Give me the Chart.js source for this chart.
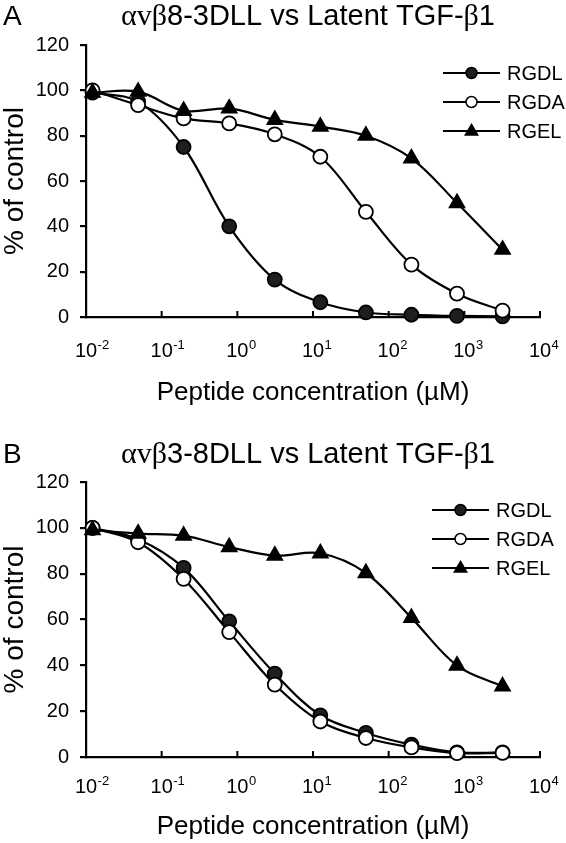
<!DOCTYPE html>
<html>
<head>
<meta charset="utf-8">
<script src="https://cdn.jsdelivr.net/npm/chart.js@4.4.1/dist/chart.umd.min.js"></script>
<style>
  body { margin: 0; background: #fff; width: 566px; height: 843px; overflow: hidden; position: relative; }
  .panel { position: absolute; left: 0; width: 566px; height: 420px; }
</style>
</head>
<body>
<div class="panel" style="top:0"><canvas id="chartA"></canvas></div>
<div class="panel" style="top:438px"><canvas id="chartB"></canvas></div>
<script>
// peptide concentrations (uM), 4-fold dilutions
var conc = [0.0122, 0.0488, 0.195, 0.781, 3.125, 12.5, 50, 200, 800, 3200];
var xTicks = [0.01, 0.1, 1, 10, 100, 1000, 10000];
var xTickExp = ['-2', '-1', '0', '1', '2', '3', '4'];   // labels are 10^exp
var seriesNames = ['RGDL', 'RGDA', 'RGEL'];

// panel A: avb8-3DLL
var rgdlA = [99, 95, 75, 40, 16.5, 6.5, 2, 1, 0.5, 0.3];
var rgdaA = [100, 93.5, 87.6, 85.4, 80.6, 70.7, 46.4, 23.1, 10.3, 2.8];
var rgelA = [99, 99.4, 91, 92, 87, 84, 80, 70, 50.3, 29.7];

// panel B: avb3-8DLL
var rgdlB = [100, 95, 82.5, 59.2, 36.4, 18.2, 10.5, 5.4, 2, 2];
var rgdaB = [100, 93.7, 77.7, 54.5, 31.6, 15.5, 8.3, 4.2, 1.7, 1.8];
var rgelB = [99, 97.5, 96.6, 91.6, 87.9, 88.9, 80.3, 60.7, 39.9, 30.8];

var SANS = "'Liberation Sans', Arial, sans-serif";
var SERIF = "'Liberation Serif', 'Times New Roman', serif";

function drawMarker(ctx, style, fill, x, y, r) {
  ctx.save();
  ctx.fillStyle = fill;
  ctx.strokeStyle = '#000';
  ctx.lineWidth = 1.5;
  ctx.beginPath();
  if (style == 'triangle') {
    ctx.moveTo(x, y - r);
    ctx.lineTo(x + r * 0.95, y + r * 0.6);
    ctx.lineTo(x - r * 0.95, y + r * 0.6);
    ctx.closePath();
  } else {
    ctx.arc(x, y, r, 0, Math.PI * 2);
  }
  ctx.fill();
  ctx.stroke();
  ctx.restore();
}

var panelPlugin = {
  id: 'panelDeco',
  beforeDatasetsDraw: function (chart) {
    // inside tick marks on the x axis
    var ctx = chart.ctx, xs = chart.scales.x, b = chart.chartArea.bottom;
    ctx.save();
    ctx.strokeStyle = '#000';
    ctx.lineWidth = 2;
    xTicks.forEach(function (v) {
      var px = xs.getPixelForValue(v);
      ctx.beginPath();
      ctx.moveTo(px, b);
      ctx.lineTo(px, b - 6);
      ctx.stroke();
    });
    ctx.restore();
  },
  afterDraw: function (chart) {
    var ctx = chart.ctx, area = chart.chartArea, o = chart.options.plugins.panelDeco;
    var xs = chart.scales.x;
    ctx.save();
    ctx.fillStyle = '#000';
    ctx.textBaseline = 'alphabetic';

    // x tick labels: "10" centred on the tick, exponent raised to the right
    var ly0 = area.bottom + o.labelDy;
    xTicks.forEach(function (v, i) {
      var px = xs.getPixelForValue(v);
      ctx.font = '20px ' + SANS;
      ctx.textAlign = 'center';
      ctx.fillText('10', px, ly0);
      var w = ctx.measureText('10').width;
      ctx.font = '13px ' + SANS;
      ctx.textAlign = 'left';
      ctx.fillText(xTickExp[i], px + w / 2 + 0.5, ly0 - 8);
    });

    // panel letter
    ctx.font = '28px ' + SANS;
    ctx.textAlign = 'left';
    ctx.fillText(o.letter, 3, o.titleY);

    // title with greek letters in serif
    var parts = o.title;
    var total = 0;
    parts.forEach(function (p) {
      ctx.font = (p[1] ? '30px ' + SERIF : '29px ' + SANS);
      total += ctx.measureText(p[0]).width;
    });
    var x = o.titleX - total / 2;
    parts.forEach(function (p) {
      ctx.font = (p[1] ? '30px ' + SERIF : '29px ' + SANS);
      ctx.fillText(p[0], x, o.titleY);
      x += ctx.measureText(p[0]).width;
    });

    // legend: line with marker, then name
    var lx = area.right - o.legendDx, ly = area.top + 28;
    chart.data.datasets.forEach(function (ds, i) {
      var y = ly + i * 29;
      ctx.strokeStyle = '#000';
      ctx.lineWidth = 2;
      ctx.beginPath();
      ctx.moveTo(lx, y);
      ctx.lineTo(lx + 57, y);
      ctx.stroke();
      drawMarker(ctx, ds.pointStyle, ds.pointBackgroundColor, lx + 28.5, y, ds.pointStyle == 'triangle' ? 6.5 : 5.5);
      ctx.fillStyle = '#000';
      ctx.font = '20px ' + SANS;
      ctx.textBaseline = 'middle';
      ctx.fillText(ds.label, lx + 64, y + 1);
      ctx.textBaseline = 'alphabetic';
    });
    ctx.restore();
  }
};

function makeDataset(name, values, style, fill, order) {
  return {
    label: name,
    data: conc.map(function (c, i) { return { x: c, y: values[i] }; }),
    borderColor: '#000',
    borderWidth: 2.2,
    tension: 0.35,
    pointStyle: style,
    pointRadius: style == 'triangle' ? 8.5 : 7,
    pointBackgroundColor: fill,
    pointBorderColor: '#000',
    pointBorderWidth: 1.8,
    clip: false,
    order: order
  };
}

function makeChart(id, letter, title, rgdl, rgda, rgel, lay) {
  return new Chart(document.getElementById(id), {
    type: 'line',
    data: {
      datasets: [
        makeDataset(seriesNames[0], rgdl, 'circle', '#1e1e1e', 2),
        makeDataset(seriesNames[1], rgda, 'circle', '#ffffff', 1),
        makeDataset(seriesNames[2], rgel, 'triangle', '#000000', 0)
      ]
    },
    options: {
      responsive: true,
      maintainAspectRatio: false,
      animation: false,
      devicePixelRatio: 1,
      layout: { padding: { left: 0, right: 26, top: lay.top, bottom: 0 } },
      plugins: {
        legend: { display: false },
        tooltip: { enabled: false },
        panelDeco: { letter: letter, title: title, titleX: 308, titleY: 25, labelDy: lay.labelDy, legendDx: lay.legendDx }
      },
      scales: {
        x: {
          type: 'logarithmic',
          min: 0.01,
          max: 10000,
          afterBuildTicks: function (s) {
            s.ticks = xTicks.map(function (v) { return { value: v, major: true }; });
          },
          afterFit: function (s) { s.height = lay.xHeight; },
          ticks: { display: false, autoSkip: false },
          grid: { display: true, drawOnChartArea: false, drawTicks: false },
          border: { display: true, color: '#000', width: 2.2 },
          title: {
            display: true,
            text: 'Peptide concentration (µM)',
            color: '#000',
            font: { size: 26, family: SANS },
            padding: { top: 0, bottom: lay.titlePad }
          }
        },
        y: {
          min: 0,
          max: 120,
          afterFit: function (s) { s.width = 86; },
          ticks: {
            stepSize: 20,
            padding: 11,
            color: '#000',
            font: { size: 20, family: SANS }
          },
          grid: { drawOnChartArea: false, drawTicks: true, tickLength: 6, color: '#000', lineWidth: 2.2 },
          border: { display: true, color: '#000', width: 2.2 },
          title: {
            display: true,
            text: '% of control',
            color: '#000',
            font: { size: 28, family: SANS },
            padding: { top: -2, bottom: 0 }
          }
        }
      }
    },
    plugins: [panelPlugin]
  });
}

makeChart('chartA', 'A', [['αvβ', true], ['8-3DLL vs Latent TGF-', false], ['β', true], ['1', false]],
  rgdlA, rgdaA, rgelA, { top: 45, xHeight: 103, labelDy: 40, titlePad: 12, legendDx: 97 });
makeChart('chartB', 'B', [['αvβ', true], ['3-8DLL vs Latent TGF-', false], ['β', true], ['1', false]],
  rgdlB, rgdaB, rgelB, { top: 44, xHeight: 101, labelDy: 36, titlePad: 16, legendDx: 108 });
</script>
</body>
</html>
